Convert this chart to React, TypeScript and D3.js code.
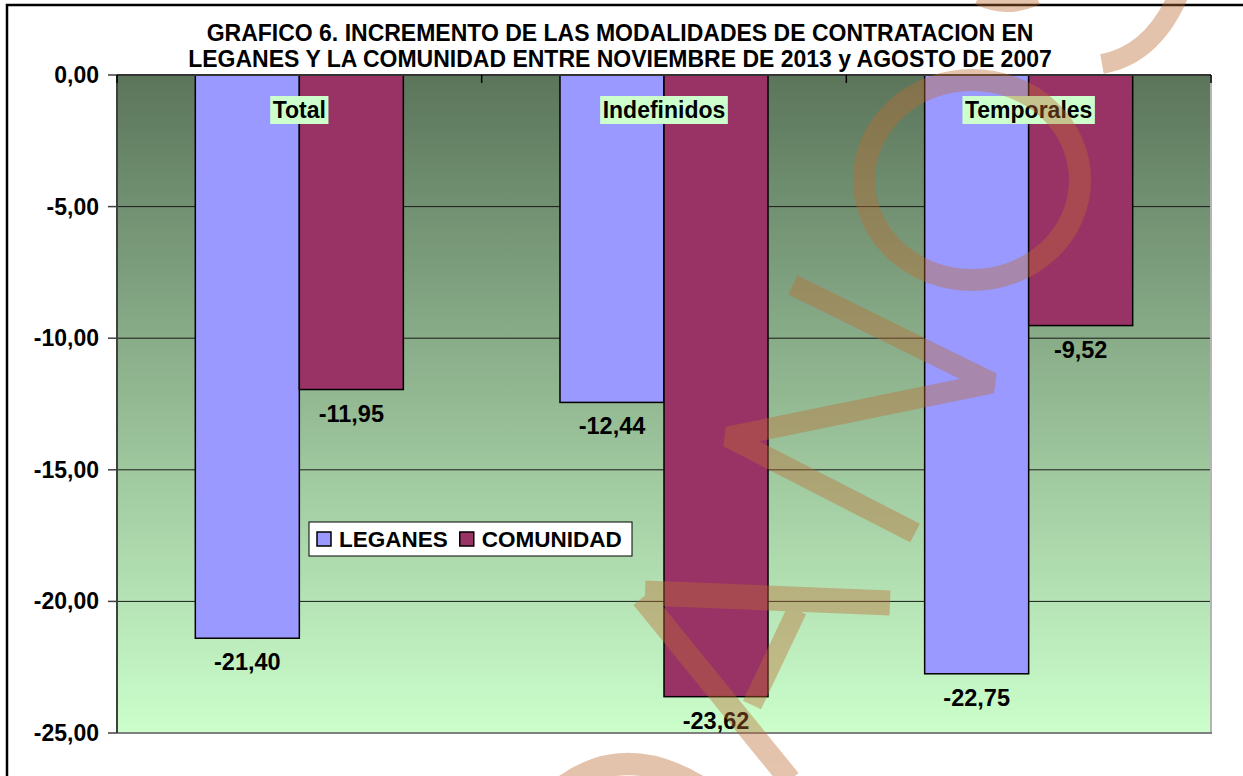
import React, { useEffect, useRef } from 'react';
import * as d3 from 'd3';

const categories = ['Total', 'Indefinidos', 'Temporales'];
const seriesNames = ['LEGANES', 'COMUNIDAD'];
const leganesValues = [-21.4, -12.44, -22.75];
const comunidadValues = [-11.95, -23.62, -9.52];
const yTickValues = [0, -5, -10, -15, -20, -25];
const titleLines = [
  'GRAFICO 6. INCREMENTO DE LAS MODALIDADES DE CONTRATACION EN',
  'LEGANES Y LA COMUNIDAD ENTRE NOVIEMBRE DE 2013 y AGOSTO DE 2007',
];

const seriesColors = ['#9999ff', '#993366'];
const FONT = 'Arial, "Liberation Sans", sans-serif';

// the orange stamp painted over the chart (decoration, not data)
const watermarkPaths = [
  { d: 'M978,-2 Q1007,12 1037,-2', w: 14 },
  { d: 'M1178,-4 Q1152,55 1102,64', w: 20 },
  { d: 'M793,285 L992,383 L728,437 L915,533', w: 21 },
  { d: 'M645,593 L890,603', w: 25 },
  { d: 'M642,598 L790,780', w: 22 },
  { d: 'M797,610 L752,705', w: 20 },
  { d: 'M556,792 Q622,738 702,788', w: 22 },
];

function App() {
  const svgRef = useRef<SVGSVGElement>(null);
  const width = 1243;
  const height = 776;

  useEffect(() => {
    if (!svgRef.current) return;
    const svg = d3.select(svgRef.current);
    svg.selectAll('*').remove();

    const plot = { left: 117, top: 75, right: 1211, bottom: 733 };
    const fmt = d3.formatLocale({
      decimal: ',', thousands: '.', grouping: [3], currency: ['', ''], minus: '-',
    }).format('.2f');

    // outer chart frame
    svg.append('rect')
      .attr('x', 7).attr('y', 5)
      .attr('width', 1300).attr('height', 900)
      .attr('fill', '#fff')
      .attr('stroke', '#000')
      .attr('stroke-width', 2.5);

    const defs = svg.append('defs');
    const grad = defs.append('linearGradient')
      .attr('id', 'plotBg')
      .attr('x1', 0).attr('y1', 0).attr('x2', 0).attr('y2', 1);
    grad.append('stop').attr('offset', '0%').attr('stop-color', '#5b755b');
    grad.append('stop').attr('offset', '100%').attr('stop-color', '#ccffcc');

    const xScale = d3.scaleBand()
      .domain(categories)
      .range([plot.left, plot.right])
      .paddingInner(0)
      .paddingOuter(0);

    const xSub = d3.scaleBand()
      .domain(seriesNames)
      .range([0, xScale.bandwidth()])
      .paddingInner(0)
      .paddingOuter(0.753);

    const yScale = d3.scaleLinear()
      .domain([-25, 0])
      .range([plot.bottom, plot.top]);

    // plot area
    svg.append('rect')
      .attr('x', plot.left).attr('y', plot.top)
      .attr('width', plot.right - plot.left)
      .attr('height', plot.bottom - plot.top)
      .attr('fill', 'url(#plotBg)');

    // gridlines
    svg.append('g')
      .selectAll('line')
      .data(yTickValues.filter(v => v !== 0 && v !== -25))
      .enter().append('line')
      .attr('x1', plot.left).attr('x2', plot.right)
      .attr('y1', d => yScale(d)).attr('y2', d => yScale(d))
      .attr('stroke', '#1a1a1a')
      .attr('stroke-width', 1);

    // right / bottom border of plot
    svg.append('line')
      .attr('x1', plot.right).attr('x2', plot.right)
      .attr('y1', plot.top).attr('y2', plot.bottom)
      .attr('stroke', '#b4b4b4').attr('stroke-width', 2);
    svg.append('line')
      .attr('x1', plot.left).attr('x2', plot.right + 1)
      .attr('y1', plot.bottom).attr('y2', plot.bottom)
      .attr('stroke', '#808080').attr('stroke-width', 2);

    // bars
    const rows = categories.map((c, i) => ({
      category: c,
      values: [leganesValues[i], comunidadValues[i]],
    }));

    const groups = svg.append('g')
      .selectAll('g')
      .data(rows)
      .enter().append('g')
      .attr('transform', d => `translate(${xScale(d.category)},0)`);

    groups.selectAll('rect')
      .data(d => d.values.map((v, j) => ({ name: seriesNames[j], value: v, j })))
      .enter().append('rect')
      .attr('x', d => xSub(d.name) || 0)
      .attr('y', yScale(0))
      .attr('width', xSub.bandwidth())
      .attr('height', d => yScale(d.value) - yScale(0))
      .attr('fill', d => seriesColors[d.j])
      .attr('stroke', '#000')
      .attr('stroke-width', 1.5);

    // value labels under the bars
    groups.selectAll('text.value')
      .data(d => d.values.map((v, j) => ({ name: seriesNames[j], value: v })))
      .enter().append('text')
      .attr('class', 'value')
      .attr('x', d => (xSub(d.name) || 0) + xSub.bandwidth() / 2)
      .attr('y', d => yScale(d.value) + 32)
      .attr('text-anchor', 'middle')
      .style('font-family', FONT)
      .style('font-size', '23.5px')
      .style('font-weight', 'bold')
      .style('fill', '#000')
      .text(d => fmt(d.value));

    // y axis
    const yAxis = svg.append('g');
    yAxis.append('line')
      .attr('x1', plot.left).attr('x2', plot.left)
      .attr('y1', plot.top).attr('y2', plot.bottom)
      .attr('stroke', '#404040').attr('stroke-width', 2);
    yAxis.selectAll('line.tick')
      .data(yTickValues)
      .enter().append('line')
      .attr('class', 'tick')
      .attr('x1', plot.left - 9).attr('x2', plot.left)
      .attr('y1', d => yScale(d)).attr('y2', d => yScale(d))
      .attr('stroke', '#404040').attr('stroke-width', 1.5);
    yAxis.selectAll('text')
      .data(yTickValues)
      .enter().append('text')
      .attr('x', 99)
      .attr('y', d => yScale(d) + 8)
      .attr('text-anchor', 'end')
      .style('font-family', FONT)
      .style('font-size', '23px')
      .style('font-weight', 'bold')
      .text(d => fmt(d));

    // x axis along zero
    const xAxis = svg.append('g');
    xAxis.append('line')
      .attr('x1', plot.left).attr('x2', plot.right)
      .attr('y1', yScale(0)).attr('y2', yScale(0))
      .attr('stroke', '#333').attr('stroke-width', 2);
    xAxis.selectAll('line.tick')
      .data([...categories.map(c => xScale(c) || 0), plot.right])
      .enter().append('line')
      .attr('class', 'tick')
      .attr('x1', d => d).attr('x2', d => d)
      .attr('y1', yScale(0)).attr('y2', yScale(0) + 8)
      .attr('stroke', '#000').attr('stroke-width', 1.5);

    // category labels with light green background
    categories.forEach(c => {
      const cx = (xScale(c) || 0) + xScale.bandwidth() / 2;
      const g = xAxis.append('g');
      const rect = g.append('rect').attr('fill', '#ccffcc');
      const t = g.append('text')
        .attr('x', cx)
        .attr('y', 118)
        .attr('text-anchor', 'middle')
        .style('font-family', FONT)
        .style('font-size', '23px')
        .style('font-weight', 'bold')
        .text(c);
      const w = (t.node() as SVGTextElement).getComputedTextLength();
      rect.attr('x', cx - w / 2 - 2.5).attr('y', 96)
        .attr('width', w + 5).attr('height', 28);
    });

    // title
    svg.append('g')
      .selectAll('text')
      .data(titleLines)
      .enter().append('text')
      .attr('x', 620)
      .attr('y', (d, i) => 41 + i * 26)
      .attr('text-anchor', 'middle')
      .style('font-family', FONT)
      .style('font-size', '23px')
      .style('font-weight', 'bold')
      .text(d => d);

    // legend
    const legend = svg.append('g');
    legend.append('rect')
      .attr('x', 309).attr('y', 522)
      .attr('width', 323).attr('height', 34)
      .attr('fill', '#fff')
      .attr('stroke', '#000').attr('stroke-width', 1);
    let lx = 317;
    seriesNames.forEach((name, i) => {
      legend.append('rect')
        .attr('x', lx).attr('y', 532)
        .attr('width', 14).attr('height', 14)
        .attr('fill', seriesColors[i])
        .attr('stroke', '#000').attr('stroke-width', 1.5);
      const t = legend.append('text')
        .attr('x', lx + 22).attr('y', 547)
        .style('font-family', FONT)
        .style('font-size', '22.5px')
        .style('font-weight', 'bold')
        .text(name);
      lx += 22 + (t.node() as SVGTextElement).getComputedTextLength() + 12;
    });

    // watermark on top
    svg.append('g')
      .attr('opacity', 0.4)
      .selectAll('path')
      .data(watermarkPaths)
      .enter().append('path')
      .attr('d', d => d.d)
      .attr('fill', 'none')
      .attr('stroke', 'rgb(190,107,50)')
      .attr('stroke-width', d => d.w)
      .attr('stroke-linejoin', 'bevel');
    svg.append('ellipse')
      .attr('cx', 972).attr('cy', 180)
      .attr('rx', 108).attr('ry', 100)
      .attr('fill', 'none')
      .attr('stroke', 'rgb(190,107,50)')
      .attr('stroke-width', 22)
      .attr('opacity', 0.4);
  }, []);

  return (
    <svg
      ref={svgRef}
      width={width}
      height={height}
      style={{ position: 'absolute', left: 0, top: 0, background: '#fff' }}
    ></svg>
  );
}

export default App;
